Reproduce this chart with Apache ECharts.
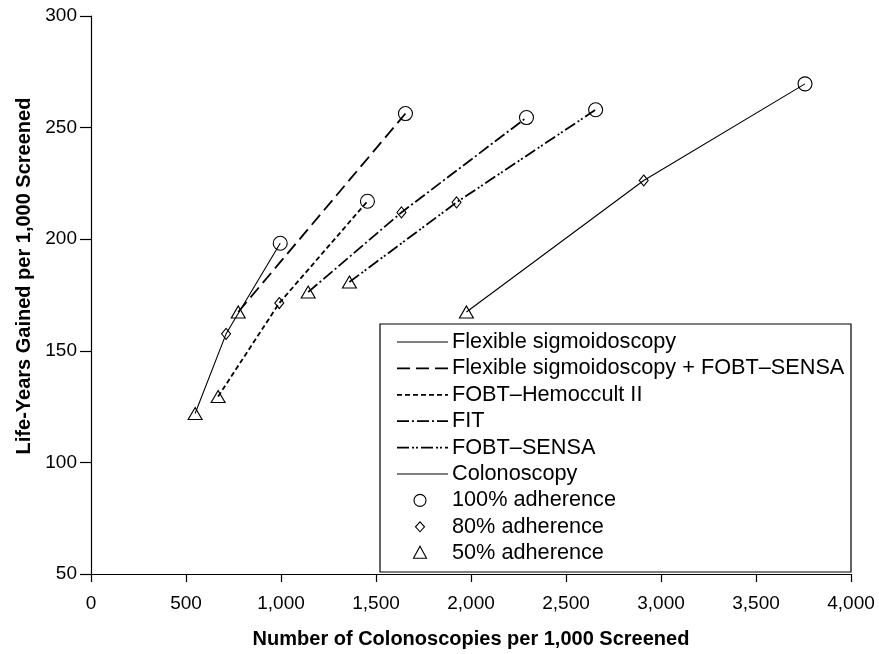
<!DOCTYPE html>
<html>
<head>
<meta charset="utf-8">
<script src="https://cdn.jsdelivr.net/npm/echarts@6/dist/echarts.min.js"></script>
<style>
html,body{margin:0;padding:0;background:#fff;}
#chart{width:879px;height:654px;}
</style>
</head>
<body>
<div id="chart"></div>
<script>
// ---- Data (x = colonoscopies per 1,000 screened, y = life-years gained per 1,000 screened)
// Each series: points at 50%, 80%, 100% adherence
const adherence = ['50%', '80%', '100%'];
const flexSig = [[548, 121.9], [711, 157.6], [996, 198.2]];
const flexSigSensa = [[775, 167.4], [1655, 256.3]];
const flexSigSensaAdh = ['50%', '100%'];
const hemoccult = [[669, 129.5], [991, 171.4], [1455, 217.0]];
const fit = [[1143, 176.3], [1634, 212.0], [2292, 254.5]];
const fobtSensa = [[1360, 180.8], [1924, 216.5], [2656, 258.0]];
const colonoscopy = [[1976, 167.4], [2909, 226.3], [3758, 269.6]];

const seriesNames = ['Flexible sigmoidoscopy', 'Flexible sigmoidoscopy + FOBT\u2013SENSA', 'FOBT\u2013Hemoccult II', 'FIT', 'FOBT\u2013SENSA', 'Colonoscopy'];
const markerLabels = ['100% adherence', '80% adherence', '50% adherence'];
const xTicks = [0, 500, 1000, 1500, 2000, 2500, 3000, 3500, 4000];
const yTicks = [50, 100, 150, 200, 250, 300];

// ---- Styles
const FONT = '"Liberation Sans", Arial, Helvetica, sans-serif';
const symbolFor = { '50%': 'triangle', '80%': 'diamond', '100%': 'circle' };
const sizeFor = { '50%': [14, 12], '80%': [9, 11], '100%': [14, 14] };
const dashes = [
  null,
  [13, 6],
  [5, 3],
  [12, 3, 2, 3],
  [12, 3, 2, 2, 2, 3],
  null
];
const widths = [1.1, 1.8, 1.8, 1.8, 1.8, 1.1];

function mkData(points, adh) {
  return points.map((p, i) => ({
    value: p,
    symbol: symbolFor[adh[i]],
    symbolSize: sizeFor[adh[i]]
  }));
}

const allPoints = [flexSig, flexSigSensa, hemoccult, fit, fobtSensa, colonoscopy];
const allAdh = [adherence, flexSigSensaAdh, adherence, adherence, adherence, adherence];

const series = allPoints.map((pts, k) => ({
  name: seriesNames[k],
  type: 'line',
  data: mkData(pts, allAdh[k]),
  showSymbol: true,
  symbolKeepAspect: true,
  lineStyle: { color: '#000', width: widths[k], type: dashes[k] ? dashes[k] : 'solid' },
  itemStyle: { color: 'rgba(0,0,0,0)', borderColor: '#000', borderWidth: 1.1 },
  emphasis: { disabled: true },
  animation: false,
  z: 2
}));

// ---- Legend drawn as graphic
const LX = 380, LY = 324, LW = 471, LH = 248;
const rowY0 = 342, rowDY = 26.4;
const LFONT = '21.7px ' + FONT;
const legendEls = [{
  type: 'rect', shape: { x: LX, y: LY, width: LW, height: LH },
  style: { fill: '#fff', stroke: '#000', lineWidth: 1.2 }, z: 10
}];
seriesNames.forEach((nm, i) => {
  const y = rowY0 + i * rowDY;
  const lineStyle = { stroke: '#000', lineWidth: widths[i] };
  if (dashes[i]) lineStyle.lineDash = dashes[i];
  legendEls.push({ type: 'line', shape: { x1: 397, y1: y, x2: 448, y2: y }, style: lineStyle, z: 11 });
  legendEls.push({ type: 'text', x: 452, y: y, style: { text: nm, font: LFONT, fill: '#000', textVerticalAlign: 'middle' }, z: 11 });
});
markerLabels.forEach((nm, j) => {
  const y = rowY0 + (6 + j) * rowDY;
  const cx = 420;
  if (j === 0) legendEls.push({ type: 'circle', shape: { cx: cx, cy: y, r: 6 }, style: { fill: 'none', stroke: '#000', lineWidth: 1.1 }, z: 11 });
  if (j === 1) legendEls.push({ type: 'polygon', shape: { points: [[cx, y - 5], [cx + 4.5, y], [cx, y + 5], [cx - 4.5, y]] }, style: { fill: 'none', stroke: '#000', lineWidth: 1.1 }, z: 11 });
  if (j === 2) legendEls.push({ type: 'polygon', shape: { points: [[cx, y - 7], [cx + 6.5, y + 5], [cx - 6.5, y + 5]] }, style: { fill: 'none', stroke: '#000', lineWidth: 1.1 }, z: 11 });
  legendEls.push({ type: 'text', x: 452, y: y, style: { text: nm, font: LFONT, fill: '#000', textVerticalAlign: 'middle' }, z: 11 });
});

const chart = echarts.init(document.getElementById('chart'), null, { renderer: 'canvas' });
chart.setOption({
  backgroundColor: '#fff',
  animation: false,
  textStyle: { fontFamily: FONT },
  grid: { left: 91, right: 28, top: 16, bottom: 78, containLabel: false },
  xAxis: {
    type: 'value', min: xTicks[0], max: xTicks[xTicks.length - 1], interval: 500,
    name: 'Number of Colonoscopies per 1,000 Screened',
    nameLocation: 'middle', nameGap: 55,
    nameTextStyle: { fontSize: 20, fontWeight: 'bold', color: '#000', fontFamily: FONT },
    axisLine: { lineStyle: { color: '#000', width: 1.2 } },
    axisTick: { length: 8, lineStyle: { color: '#000', width: 1.2 } },
    axisLabel: { color: '#000', fontSize: 19, margin: 20, fontFamily: FONT,
      formatter: v => v.toLocaleString('en-US') },
    splitLine: { show: false }
  },
  yAxis: {
    type: 'value', min: yTicks[0], max: yTicks[yTicks.length - 1], interval: 50,
    name: 'Life-Years Gained per 1,000 Screened',
    nameLocation: 'middle', nameGap: 49, nameRotate: 90,
    nameTextStyle: { fontSize: 20, fontWeight: 'bold', color: '#000', fontFamily: FONT, padding: [0, 0, 0, 38] },
    axisLine: { show: true, lineStyle: { color: '#000', width: 1.2 } },
    axisTick: { show: true, length: 11, lineStyle: { color: '#000', width: 1.2 } },
    axisLabel: { color: '#000', fontSize: 19, margin: 14, fontFamily: FONT },
    splitLine: { show: false }
  },
  series: series,
  graphic: legendEls
});
</script>
</body>
</html>
